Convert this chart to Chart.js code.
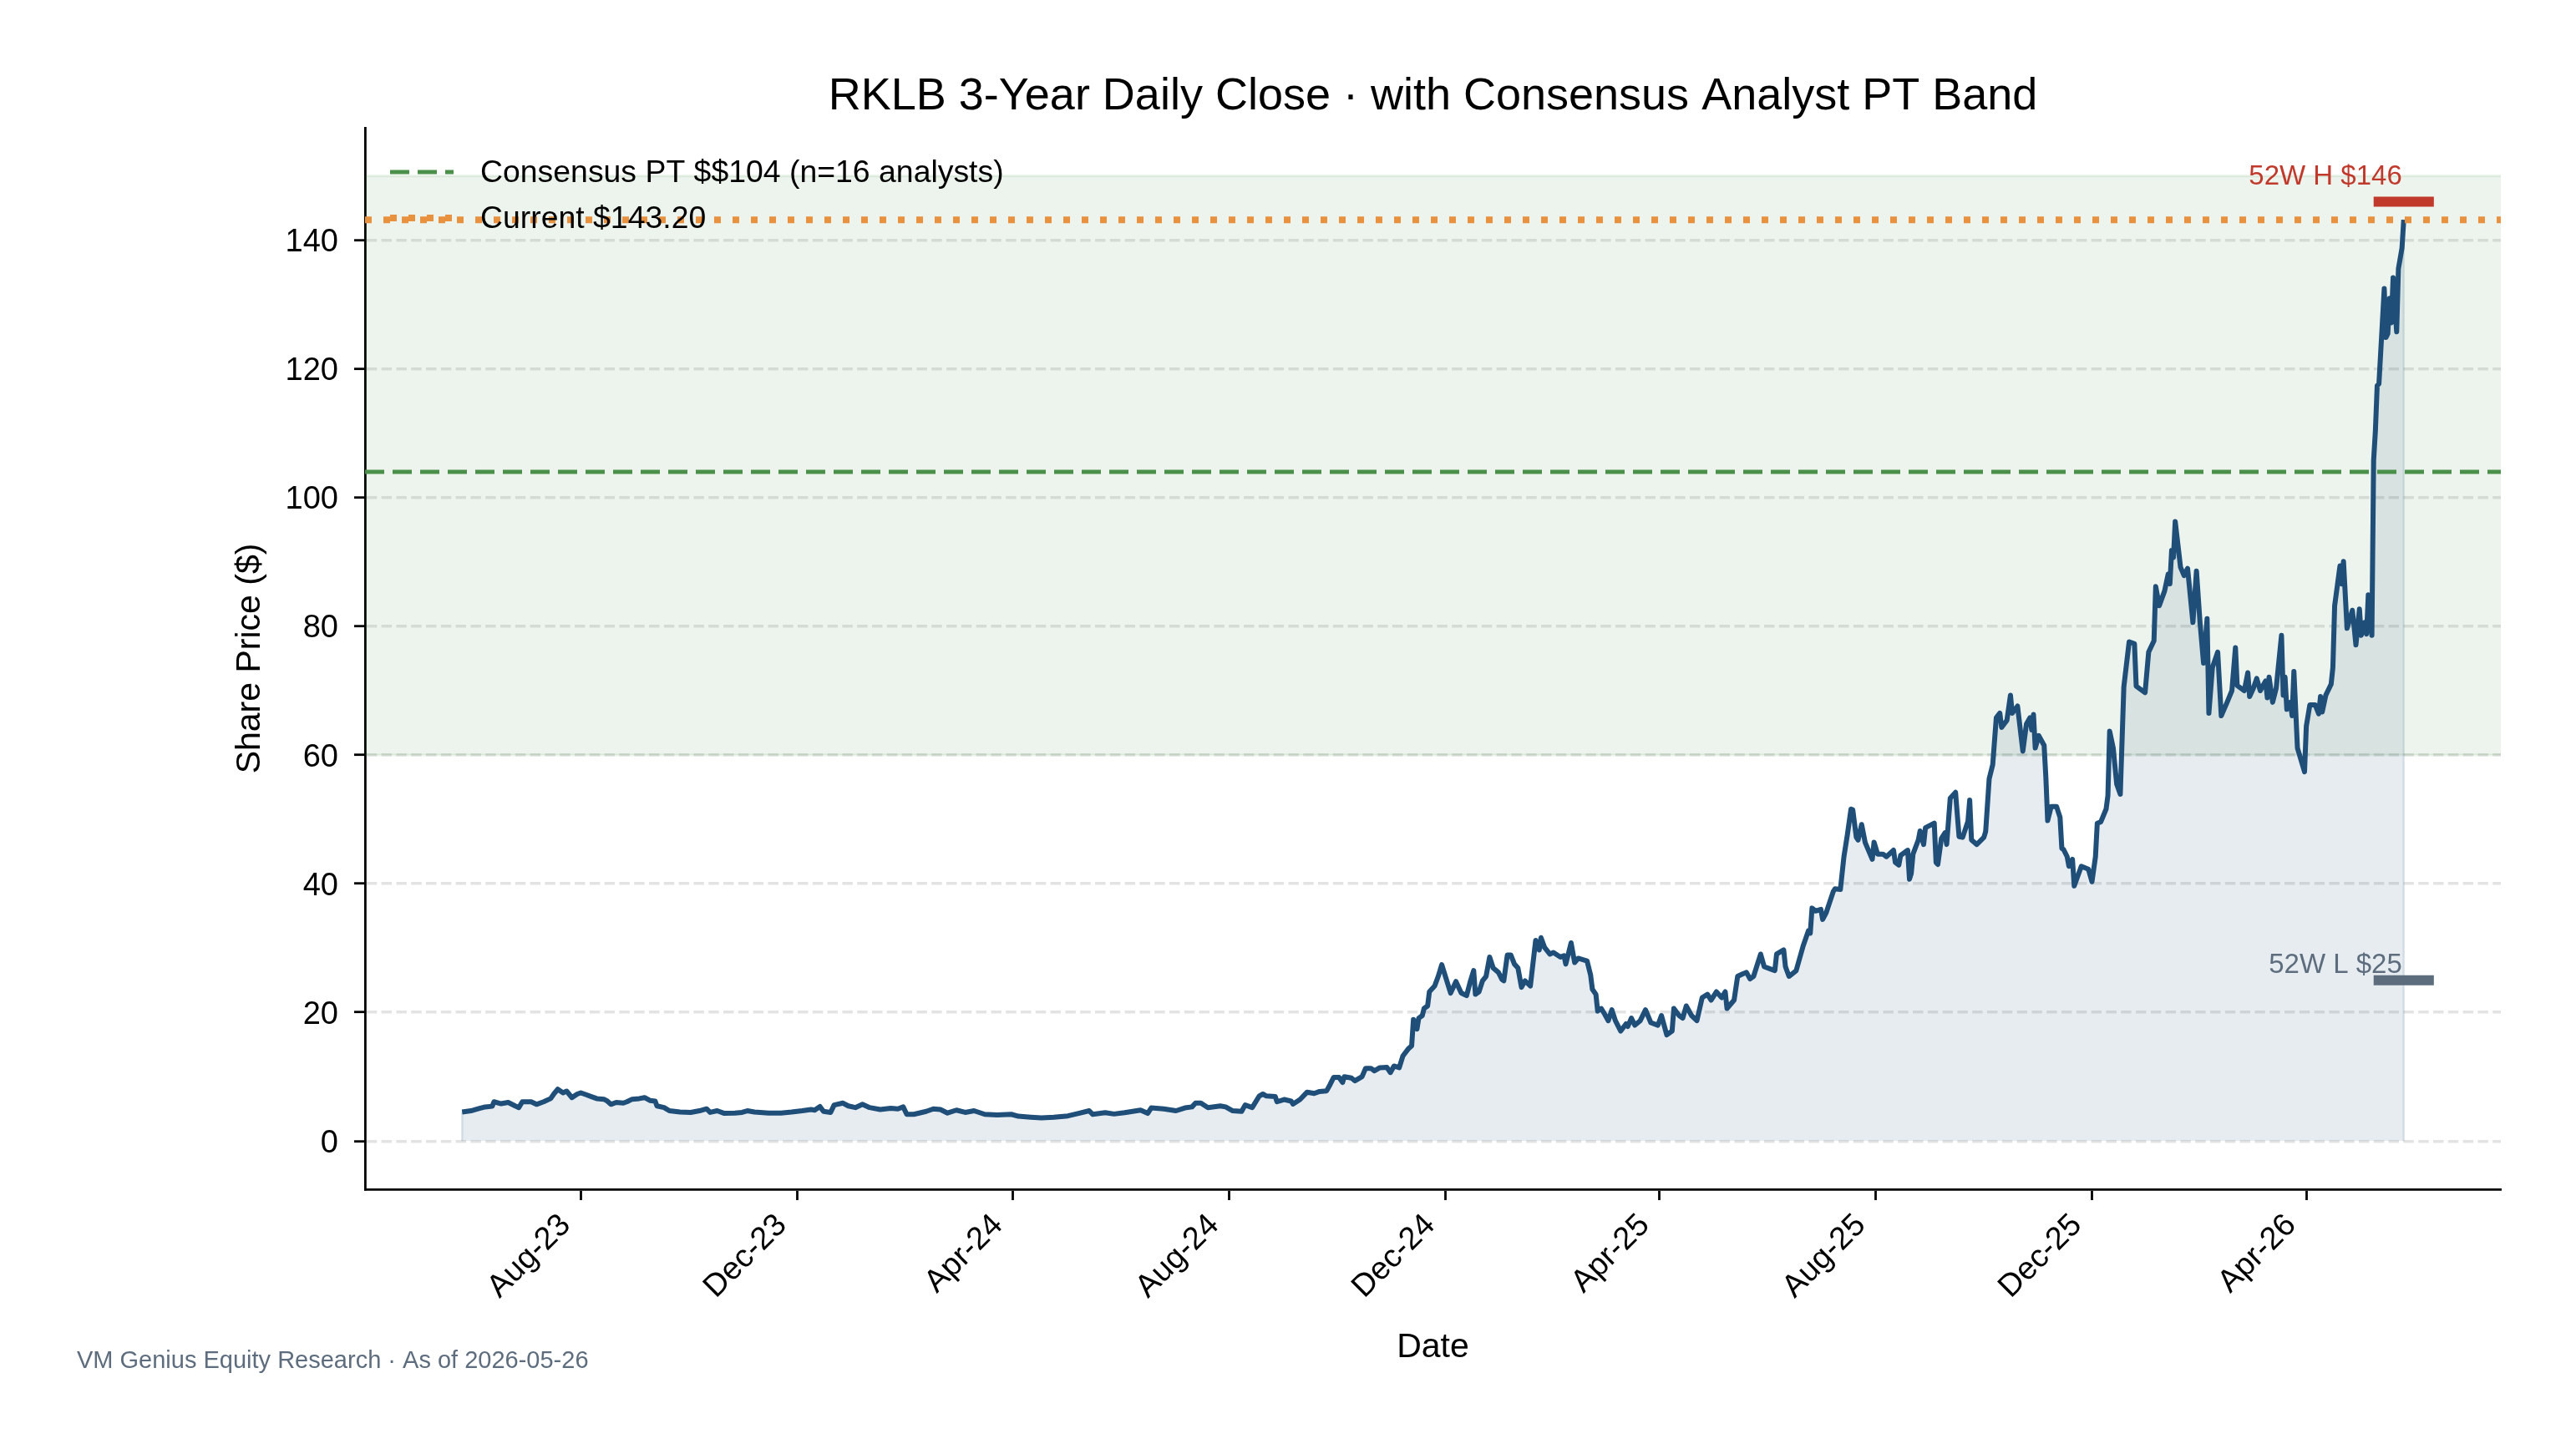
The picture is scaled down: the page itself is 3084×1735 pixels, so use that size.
<!DOCTYPE html>
<html><head><meta charset="utf-8">
<script src="https://cdn.jsdelivr.net/npm/chart.js@4.4.1/dist/chart.umd.min.js"></script>
<style>html,body{margin:0;padding:0;background:#fff;}#wrap{width:3084px;height:1735px;}</style>
</head><body><div id="wrap"><canvas id="c" width="3084" height="1735"></canvas></div>
<script>
const dates = [
'2023-05-26','2023-05-31',
'2023-06-04','2023-06-08','2023-06-12','2023-06-13','2023-06-17','2023-06-21','2023-06-25','2023-06-27','2023-06-29',
'2023-07-04','2023-07-07','2023-07-11','2023-07-15','2023-07-17','2023-07-19','2023-07-22','2023-07-24','2023-07-27','2023-07-30',
'2023-08-01','2023-08-04','2023-08-07','2023-08-10','2023-08-14','2023-08-16','2023-08-18','2023-08-21','2023-08-25','2023-08-27','2023-08-30',
'2023-09-03','2023-09-06','2023-09-09','2023-09-12','2023-09-13','2023-09-17','2023-09-20','2023-09-26',
'2023-10-02','2023-10-07','2023-10-11','2023-10-13','2023-10-17','2023-10-21','2023-10-27','2023-10-31',
'2023-11-03','2023-11-07','2023-11-15','2023-11-22','2023-11-28',
'2023-12-04','2023-12-09','2023-12-11','2023-12-14','2023-12-16','2023-12-20','2023-12-22','2023-12-27','2023-12-30',
'2024-01-03','2024-01-07','2024-01-11','2024-01-17','2024-01-23','2024-01-27','2024-01-30',
'2024-02-01','2024-02-05','2024-02-12','2024-02-16','2024-02-20','2024-02-24','2024-02-29',
'2024-03-05','2024-03-10','2024-03-16','2024-03-23','2024-03-31',
'2024-04-04','2024-04-11','2024-04-17','2024-04-24',
'2024-05-02','2024-05-08','2024-05-14','2024-05-16','2024-05-23','2024-05-28',
'2024-06-03','2024-06-12','2024-06-16','2024-06-18','2024-06-25',
'2024-07-02','2024-07-07','2024-07-11','2024-07-13','2024-07-16','2024-07-20','2024-07-27','2024-07-30',
'2024-08-03','2024-08-08','2024-08-10','2024-08-14','2024-08-18','2024-08-20','2024-08-22','2024-08-27','2024-08-28',
'2024-09-01','2024-09-05','2024-09-06','2024-09-10','2024-09-14','2024-09-18','2024-09-21','2024-09-25','2024-09-27','2024-09-29',
'2024-10-02','2024-10-04','2024-10-05','2024-10-09','2024-10-11','2024-10-15','2024-10-17','2024-10-20','2024-10-22','2024-10-25','2024-10-29','2024-10-31',
'2024-11-02','2024-11-05','2024-11-07','2024-11-10','2024-11-12','2024-11-13','2024-11-15','2024-11-16','2024-11-18','2024-11-19','2024-11-21','2024-11-22','2024-11-25','2024-11-27','2024-11-29',
'2024-12-04','2024-12-07','2024-12-10','2024-12-13','2024-12-15','2024-12-17','2024-12-18','2024-12-20','2024-12-22','2024-12-24','2024-12-26','2024-12-28','2024-12-31',
'2025-01-02','2025-01-03','2025-01-05','2025-01-07','2025-01-09','2025-01-11','2025-01-13','2025-01-15','2025-01-18','2025-01-21','2025-01-23','2025-01-24','2025-01-26','2025-01-29','2025-01-31',
'2025-02-04','2025-02-06','2025-02-07','2025-02-10','2025-02-12','2025-02-14','2025-02-19','2025-02-21','2025-02-22','2025-02-24','2025-02-25','2025-02-27',
'2025-03-01','2025-03-03','2025-03-05','2025-03-07','2025-03-10','2025-03-13','2025-03-14','2025-03-16','2025-03-18','2025-03-21','2025-03-24','2025-03-27','2025-03-31',
'2025-04-02','2025-04-05','2025-04-08','2025-04-09','2025-04-12','2025-04-14','2025-04-16','2025-04-19','2025-04-22','2025-04-25','2025-04-28','2025-04-30',
'2025-05-03','2025-05-06','2025-05-08','2025-05-09','2025-05-13','2025-05-15','2025-05-18','2025-05-20','2025-05-22','2025-05-24','2025-05-28','2025-05-30',
'2025-06-03','2025-06-05','2025-06-06','2025-06-10','2025-06-11','2025-06-13','2025-06-17','2025-06-21','2025-06-24','2025-06-25','2025-06-26','2025-06-28',
'2025-07-01','2025-07-02','2025-07-04','2025-07-08','2025-07-09','2025-07-12','2025-07-14','2025-07-16','2025-07-18','2025-07-19','2025-07-21','2025-07-22','2025-07-24','2025-07-26','2025-07-30','2025-07-31',
'2025-08-02','2025-08-05','2025-08-07','2025-08-11','2025-08-12','2025-08-14','2025-08-15','2025-08-19','2025-08-20','2025-08-21','2025-08-22','2025-08-25','2025-08-26','2025-08-28','2025-08-29',
'2025-09-03','2025-09-04','2025-09-05','2025-09-07','2025-09-09','2025-09-10','2025-09-12','2025-09-15','2025-09-17','2025-09-19','2025-09-22','2025-09-23','2025-09-24','2025-09-27',
'2025-10-01','2025-10-02','2025-10-04','2025-10-06','2025-10-08','2025-10-10','2025-10-11','2025-10-14','2025-10-16','2025-10-17','2025-10-20','2025-10-23','2025-10-25','2025-10-27','2025-10-28','2025-10-29','2025-10-30',
'2025-11-01','2025-11-04','2025-11-05','2025-11-06','2025-11-08','2025-11-11','2025-11-13','2025-11-14','2025-11-15','2025-11-17','2025-11-18','2025-11-20','2025-11-21','2025-11-25','2025-11-29',
'2025-12-01','2025-12-03','2025-12-04','2025-12-06','2025-12-09','2025-12-10','2025-12-11','2025-12-13','2025-12-15','2025-12-17','2025-12-19','2025-12-22','2025-12-25','2025-12-26','2025-12-31',
'2026-01-02','2026-01-05','2026-01-06','2026-01-08','2026-01-11','2026-01-13','2026-01-14','2026-01-15','2026-01-16','2026-01-17','2026-01-20','2026-01-22','2026-01-24','2026-01-27','2026-01-29','2026-01-31',
'2026-02-02','2026-02-04','2026-02-05','2026-02-07','2026-02-10','2026-02-12','2026-02-15','2026-02-18','2026-02-20','2026-02-21','2026-02-25','2026-02-27','2026-02-28',
'2026-03-02','2026-03-04','2026-03-06','2026-03-09','2026-03-10','2026-03-11','2026-03-13','2026-03-15','2026-03-18','2026-03-19','2026-03-20','2026-03-21','2026-03-23','2026-03-24','2026-03-25','2026-03-27','2026-03-31',
'2026-04-01','2026-04-03','2026-04-06','2026-04-08','2026-04-09','2026-04-10','2026-04-12','2026-04-15','2026-04-16','2026-04-17','2026-04-20','2026-04-21','2026-04-22','2026-04-24','2026-04-27','2026-04-28','2026-04-29',
'2026-05-01','2026-05-02','2026-05-04','2026-05-05','2026-05-06','2026-05-08','2026-05-09','2026-05-10','2026-05-11','2026-05-12','2026-05-15','2026-05-16','2026-05-17','2026-05-18','2026-05-19','2026-05-20','2026-05-22','2026-05-23','2026-05-25','2026-05-26'
];
const closes = [
4.5,4.7,
5.0,5.3,5.4,6.1,5.8,6.0,5.45,5.2,6.1,
6.1,5.7,6.1,6.6,7.4,8.05,7.5,7.75,6.75,7.3,
7.5,7.2,6.9,6.6,6.5,6.2,5.7,6.0,5.9,6.1,6.5,
6.6,6.75,6.3,6.2,5.45,5.2,4.7,4.5,
4.45,4.7,5.0,4.45,4.7,4.3,4.35,4.45,
4.7,4.5,4.35,4.35,4.5,
4.7,4.9,4.8,5.35,4.6,4.45,5.6,5.9,5.45,
5.2,5.7,5.2,4.9,5.1,5.0,5.3,
4.15,4.15,4.6,5.0,4.9,4.35,4.8,
4.45,4.7,4.15,4.05,4.15,
3.85,3.7,3.6,3.7,
3.9,4.3,4.7,4.15,4.4,4.2,
4.4,4.8,4.3,5.15,5.0,
4.7,5.15,5.3,5.9,5.9,5.2,5.45,5.3,
4.7,4.6,5.6,5.2,7.0,7.3,7.0,6.9,6.1,
6.45,6.2,5.75,6.45,7.6,7.4,7.7,7.8,8.8,9.9,
9.9,9.1,10.0,9.8,9.35,10.0,11.3,11.3,10.9,11.4,11.45,10.65,
11.65,11.4,13.2,14.3,14.8,18.9,17.4,19.1,19.5,20.6,21.0,23.2,24.1,25.6,27.4,
23.0,24.8,23.0,22.6,24.7,26.5,22.8,23.2,24.9,25.6,28.6,26.9,26.2,
25.1,24.9,28.9,28.9,27.5,26.9,23.9,24.9,24.1,31.2,29.7,31.6,30.1,29.05,29.3,
28.6,28.8,27.5,30.8,27.75,28.4,28.0,25.8,23.6,22.8,20.2,20.6,
19.7,18.7,20.4,18.7,17.1,18.2,17.8,19.1,18.0,18.7,20.4,18.4,18.0,
19.5,16.5,17.1,20.6,19.5,19.1,21.0,19.5,18.7,22.3,22.8,21.9,
23.2,22.3,23.2,20.6,21.9,25.6,26.0,26.2,25.2,25.6,29.05,27.1,
26.7,26.5,29.05,29.7,27.1,25.6,26.45,30.35,32.7,32.3,36.2,35.75,
36.0,34.45,35.5,38.8,39.2,39.1,44.2,47.7,51.6,51.5,47.2,46.8,49.2,46.4,43.8,46.45,
44.6,44.6,44.2,45.2,43.3,42.9,44.4,45.2,40.7,41.6,44.6,46.8,48.2,46.1,48.7,
49.4,43.3,43.0,47.0,47.9,46.1,53.3,54.2,47.3,47.2,49.7,53.0,46.8,46.1,
47.2,48.1,56.3,58.5,65.8,66.5,64.3,65.4,69.3,66.5,67.6,60.6,64.8,65.8,63.9,66.3,61.1,
63.0,61.5,56.5,49.8,52.0,52.0,50.3,45.5,45.3,44.2,42.7,43.8,39.65,42.7,42.25,
40.3,44.2,49.4,49.6,51.6,53.7,63.7,61.1,55.45,53.9,70.6,77.6,77.3,70.7,69.7,
76.0,77.75,86.2,83.2,85.5,88.1,86.6,91.8,90.7,96.3,89.2,87.9,89.0,80.6,88.6,80.6,
74.3,81.2,66.5,73.6,76.0,66.1,68.0,70.0,76.7,70.8,70.0,72.8,69.1,
70.3,71.9,70.0,71.5,68.9,72.1,68.2,70.4,78.6,69.3,72.1,67.1,68.2,66.1,73.0,61.1,57.4,
64.5,67.8,67.8,66.4,69.1,66.7,69.3,71.0,73.6,83.2,89.4,86.6,90.1,79.7,82.5,79.9,77.1,
82.7,78.6,80.6,78.8,84.9,78.6,105.8,110.4,117.4,117.7,132.5,124.9,125.5,131.0,127.2,134.2,125.8,135.6,138.8,143.2
];
const xTickDates  = ['2023-08-01','2023-12-01','2024-04-01','2024-08-01','2024-12-01','2025-04-01','2025-08-01','2025-12-01','2026-04-01'];
const xTickLabels = ['Aug-23','Dec-23','Apr-24','Aug-24','Dec-24','Apr-25','Aug-25','Dec-25','Apr-26'];
const yTicks = [0,20,40,60,80,100,120,140];
const ticker = 'RKLB';
const consensusPT = 104;
const analystCount = 16;
const currentPrice = 143.20;
const bandLow = 60, bandHigh = 150;
const high52 = 146, low52 = 25;
const asOf = '2026-05-26';

const FONT = "'Liberation Sans', Arial, Helvetica, sans-serif";
Chart.defaults.font.family = FONT;
const toDay = s => Date.parse(s + 'T00:00:00Z') / 86400000;
const xs = dates.map(toDay);
const xFirst = xs[0], xLast = xs[xs.length - 1];
const span = xLast - xFirst;
const xMin = xFirst - 0.05 * span, xMax = xLast + 0.05 * span;
const yMin = 0 - 0.05 * (bandHigh - 0), yMax = bandHigh + 0.05 * (bandHigh - 0);
const markHalf = 17;
const hline = v => [{x: xMin, y: v}, {x: xMax, y: v}];

const dsConsensus = {label:'consensus', data: hline(consensusPT), borderColor:'#4a8f4a', borderWidth:5, borderDash:[23,10], pointRadius:0, fill:false, order:1, borderCapStyle:'butt'};
const dsCurrent = {label:'current', data: hline(currentPrice), borderColor:'#e8913f', borderWidth:8, borderDash:[8,14], pointRadius:0, fill:false, order:1, borderCapStyle:'butt'};

const annot = {
  id:'annot',
  beforeDatasetsDraw(chart){
    const {ctx, scales:{x, y}} = chart;
    ctx.save();
    ctx.strokeStyle = 'rgba(31,78,121,0.14)'; ctx.lineWidth = 2.5;
    [0, xs.length - 1].forEach(i => {
      const px = x.getPixelForValue(xs[i]);
      ctx.beginPath(); ctx.moveTo(px, y.getPixelForValue(0)); ctx.lineTo(px, y.getPixelForValue(closes[i])); ctx.stroke();
    });
    ctx.restore();
  },
  afterDraw(chart){
    const {ctx, chartArea:ca, scales:{x, y}} = chart;
    ctx.save();
    ctx.fillStyle = '#000';
    ctx.font = `54px ${FONT}`; ctx.textAlign = 'center'; ctx.textBaseline = 'middle';
    ctx.fillText(`${ticker} 3-Year Daily Close · with Consensus Analyst PT Band`, (ca.left + ca.right) / 2, 116);
    // legend
    const rows = [
      {ds: dsConsensus, text: `Consensus PT $$${consensusPT} (n=${analystCount} analysts)`, y: ca.top + 53},
      {ds: dsCurrent, text: `Current $${currentPrice.toFixed(2)}`, y: ca.top + 108}
    ];
    rows.forEach(r => {
      ctx.save();
      ctx.strokeStyle = r.ds.borderColor; ctx.lineWidth = r.ds.borderWidth; ctx.setLineDash(r.ds.borderDash); ctx.lineCap = 'butt';
      ctx.beginPath(); ctx.moveTo(ca.left + 30, r.y); ctx.lineTo(ca.left + 106, r.y); ctx.stroke();
      ctx.restore();
      ctx.font = `37.4px ${FONT}`; ctx.textAlign = 'left'; ctx.textBaseline = 'middle'; ctx.fillStyle = '#000';
      ctx.fillText(r.text, ca.left + 138, r.y + 2);
    });
    // 52W labels
    const xr = x.getPixelForValue(xLast) - 2;
    ctx.font = `33px ${FONT}`; ctx.textAlign = 'right'; ctx.textBaseline = 'alphabetic';
    ctx.fillStyle = '#c0392b';
    ctx.fillText(`52W H $${high52}`, xr, y.getPixelForValue(high52) - 21);
    ctx.fillStyle = '#5d6d7e';
    ctx.fillText(`52W L $${low52}`, xr, y.getPixelForValue(low52) - 9);
    // footer
    ctx.font = `29px ${FONT}`; ctx.textAlign = 'left'; ctx.textBaseline = 'middle'; ctx.fillStyle = '#5d6d7e';
    ctx.fillText(`VM Genius Equity Research · As of ${asOf}`, 92, 1630);
    ctx.restore();
  }
};

new Chart(document.getElementById('c'), {
  type:'line',
  data:{datasets:[
    {label:'close', data: xs.map((v, i) => ({x: v, y: closes[i]})), borderColor:'#1f4e79', borderWidth:6, pointRadius:0, tension:0, fill:'origin', backgroundColor:'rgba(31,78,121,0.105)', order:2, borderJoinStyle:'round'},
    dsConsensus,
    dsCurrent,
    {label:'52wH', data:[{x: xLast - markHalf, y: high52}, {x: xLast + markHalf, y: high52}], borderColor:'#c0392b', borderWidth:12, pointRadius:0, fill:false, order:0, borderCapStyle:'butt'},
    {label:'52wL', data:[{x: xLast - markHalf, y: low52}, {x: xLast + markHalf, y: low52}], borderColor:'#5d6d7e', borderWidth:12, pointRadius:0, fill:false, order:0, borderCapStyle:'butt'},
    {label:'bandHi', data: hline(bandHigh), borderColor:'rgba(46,125,50,0.10)', borderWidth:3, pointRadius:0, fill:{value: bandLow}, backgroundColor:'rgba(46,125,50,0.085)', order:10},
    {label:'bandLo', data: hline(bandLow), borderColor:'rgba(46,125,50,0.10)', borderWidth:3, pointRadius:0, fill:false, order:10}
  ]},
  options:{
    responsive:false, animation:false, devicePixelRatio:1,
    layout:{padding:{left:0, right:90, top:153, bottom:0}},
    plugins:{legend:{display:false}, tooltip:{enabled:false}, title:{display:false}},
    scales:{
      x:{
        type:'linear', min:xMin, max:xMax,
        afterBuildTicks: s => { s.ticks = xTickDates.map(d => ({value: toDay(d)})); },
        afterFit: s => { s.height = 311; },
        ticks:{autoSkip:false, maxRotation:45, minRotation:45, padding:8, labelOffset:-18, font:{size:38}, color:'#000', callback:(v, i) => xTickLabels[i]},
        grid:{drawOnChartArea:false, drawTicks:true, tickLength:13, tickColor:'#000', tickWidth:2.8},
        border:{display:true, color:'#000', width:2.8},
        title:{display:true, text:'Date', font:{size:41}, color:'#000', padding:{top:0, bottom:97}}
      },
      y:{
        type:'linear', min:yMin, max:yMax,
        afterBuildTicks: s => { s.ticks = yTicks.map(v => ({value: v})); },
        afterFit: s => { s.width = 437; },
        ticks:{padding:19, labelOffset:3, font:{size:38}, color:'#000'},
        grid:{color:'rgba(0,0,0,0.11)', lineWidth:3.4, drawTicks:true, tickLength:13, tickColor:'#000', tickWidth:2.8},
        border:{display:true, color:'#000', width:2.8, dash:[12.5,5.3]},
        title:{display:true, text:'Share Price ($)', font:{size:41}, color:'#000', padding:{top:275, bottom:0}}
      }
    }
  },
  plugins:[annot]
});
</script>
</body></html>
